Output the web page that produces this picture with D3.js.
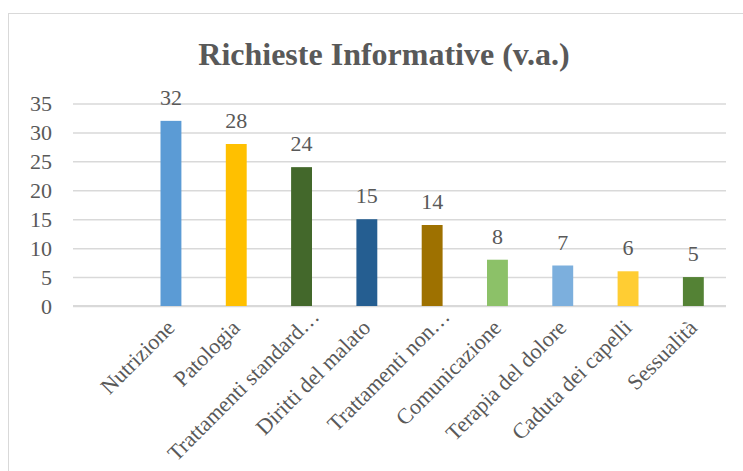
<!DOCTYPE html>
<html>
<head>
<meta charset="utf-8">
<script src="https://cdn.jsdelivr.net/npm/d3@7"></script>
<style>
  html, body { margin: 0; padding: 0; background: #ffffff; }
  svg { display: block; }
</style>
</head>
<body>
<svg id="chart" width="743" height="471"></svg>
<script>
// ---- data ----
const title = "Richieste Informative (v.a.)";
const categories = ["", "Nutrizione", "Patologia", "Trattamenti standard…", "Diritti del malato",
  "Trattamenti non…", "Comunicazione", "Terapia del dolore", "Caduta dei capelli", "Sessualità"];
const values = [null, 32, 28, 24, 15, 14, 8, 7, 6, 5];
const colors = [null, "#5B9BD5", "#FFC000", "#43682B", "#255E91", "#9E7100",
  "#8CC168", "#7CAFDD", "#FFCD33", "#548235"];
const yTicks = [0, 5, 10, 15, 20, 25, 30, 35];

// ---- layout ----
const svg = d3.select("#chart");
const W = 743, H = 471;
const plot = { left: 73, right: 726, top: 103.5, bottom: 306 };
const textColor = "#595959";
const gridColor = "#D9D9D9";
const serif = "'Liberation Serif', 'Times New Roman', serif";

svg.append("rect").attr("x", 0).attr("y", 0).attr("width", W).attr("height", H).attr("fill", "#fff");
svg.append("rect").attr("x", 8.5).attr("y", 13.5).attr("width", 760).attr("height", 500)
  .attr("fill", "none").attr("stroke", gridColor).attr("stroke-width", 1);

const x = d3.scaleBand().domain(categories).range([plot.left, plot.right])
  .paddingInner(0.68).paddingOuter(0.34);
const y = d3.scaleLinear().domain([0, 35]).range([plot.bottom, plot.top]);

// title
svg.append("text").attr("x", 384).attr("y", 65).attr("text-anchor", "middle")
  .attr("font-family", serif).attr("font-weight", "bold").attr("font-size", 32)
  .attr("fill", textColor).text(title);

// gridlines
const yAxis = d3.axisLeft(y).tickValues(yTicks).tickSize(-(plot.right - plot.left)).tickPadding(21);
const gy = svg.append("g").attr("transform", `translate(${plot.left},0)`).call(yAxis);
gy.select(".domain").remove();
gy.selectAll(".tick line").attr("stroke", gridColor).attr("stroke-width", 1.5);
gy.selectAll(".tick text").attr("font-family", serif).attr("font-size", 22)
  .attr("fill", textColor).attr("dy", "0.33em");

// x axis line
svg.append("line").attr("x1", plot.left).attr("x2", plot.right)
  .attr("y1", y(0)).attr("y2", y(0)).attr("stroke", gridColor).attr("stroke-width", 2);

const data = categories.map((c, i) => ({ c, v: values[i], col: colors[i] })).filter(d => d.v != null);

// bars
svg.append("g").selectAll("rect").data(data).join("rect")
  .attr("x", d => x(d.c)).attr("width", x.bandwidth())
  .attr("y", d => y(d.v)).attr("height", d => y(0) - y(d.v))
  .attr("fill", d => d.col);

// value labels
svg.append("g").selectAll("text").data(data).join("text")
  .attr("x", d => x(d.c) + x.bandwidth() / 2).attr("y", d => y(d.v) - 16)
  .attr("text-anchor", "middle").attr("font-family", serif).attr("font-size", 22)
  .attr("fill", textColor).text(d => d.v);

// category labels, rotated
svg.append("g").selectAll("text").data(categories.filter(c => c !== "")).join("text")
  .attr("transform", c => {
    const cx = x(c) + x.bandwidth() / 2;
    const trunc = c.endsWith("…");
    const ax = cx + (trunc ? 19 : 5);
    const ay = trunc ? 318 : 329;
    return `translate(${ax},${ay}) rotate(-45)`;
  })
  .attr("text-anchor", "end").attr("font-family", serif).attr("font-size", 22)
  .attr("fill", textColor).text(c => c);
</script>
</body>
</html>
